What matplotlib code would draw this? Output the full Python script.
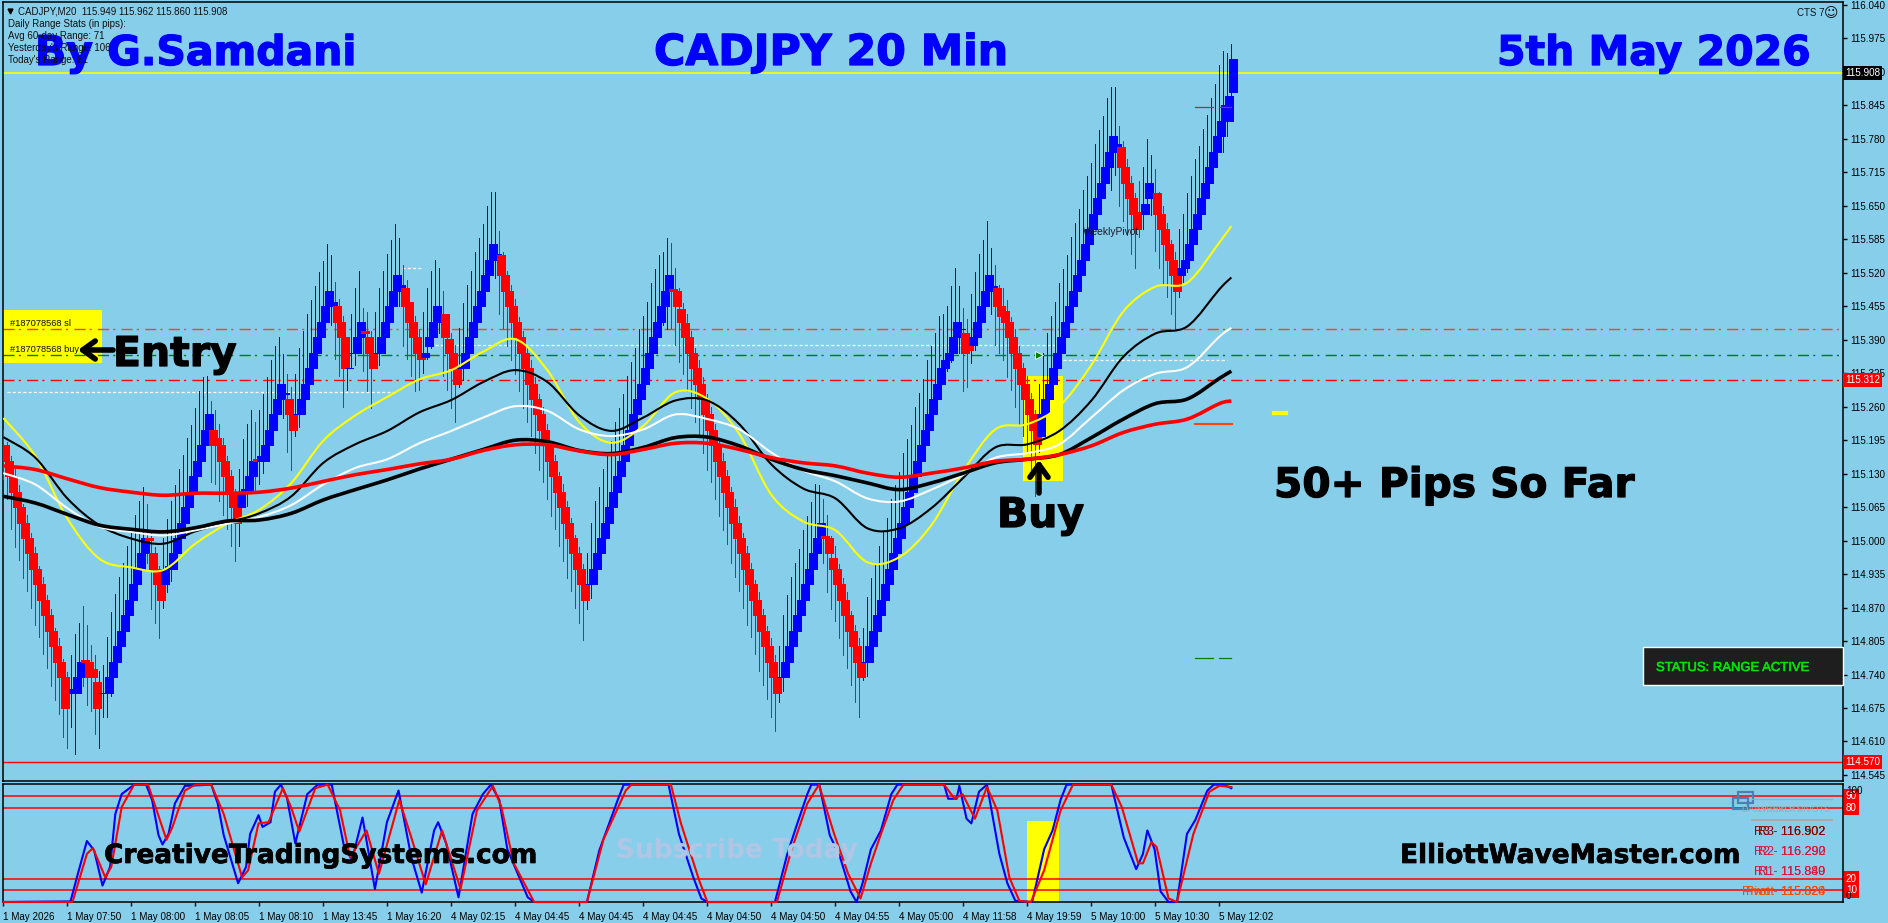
import numpy as np
import matplotlib
matplotlib.use("Agg")
import matplotlib.pyplot as plt
import matplotlib.patheffects as pe
from matplotlib.patches import Rectangle, PathPatch
from matplotlib.path import Path

W, H = 1888, 923
SKY = "#87ceeb"
SMALL = "Liberation Sans"
BOLD = "DejaVu Sans"

plt.rcParams["lines.scale_dashes"] = False
plt.rcParams["font.family"] = [SMALL, "DejaVu Sans"]

# =========================
# Data - renko bricks, one pair per bar (price = base + n * brick)
# =========================
base_price = 114.585
brick = 0.03

opens = [
    20, 19, 18, 17, 16, 15, 14, 13, 12, 11,
    10, 9, 8, 7, 6, 5, 4.1, 4, 4, 5,
    6.1, 6, 5.5, 4.7, 4, 4, 4, 5, 6, 7,
    8, 9, 10, 11, 12, 13, 14, 13, 12, 11,
    11, 12, 12, 13, 14, 15, 16, 17, 18, 19,
    20, 21, 21, 20.5, 20, 19, 18, 17, 16, 16,
    17, 17, 18, 19.1, 19, 19, 20, 21, 22, 23,
    23.3, 23, 22, 22, 22, 23, 24, 25, 26, 27,
    28, 29, 29, 29, 28, 27, 25, 26, 26, 27,
    27.4, 27, 26, 26, 26, 27, 28, 29, 30, 30,
    30.2, 29.3, 28, 27, 26, 25.7, 26.4, 27, 28, 28.3,
    28.5, 26.9, 26, 25, 25, 25, 26, 27, 28, 29,
    30, 31, 32, 32, 32.3, 31, 30, 29, 28, 27,
    26, 25, 24, 23, 22, 21, 20, 19, 18, 17,
    16, 15, 14, 13, 12, 11, 11, 11, 12, 13,
    14, 15, 16, 17, 18, 19, 20, 21, 22, 23,
    24, 25, 26, 27, 28, 29, 30, 30.1, 30, 28.8,
    27.9, 27, 26, 25, 24, 23, 22, 21, 20, 19,
    18, 17, 16, 15, 14, 13, 12, 11, 10, 9,
    8, 7, 6, 5, 5, 5, 6, 7, 8, 9,
    10, 11, 12, 13, 14, 14.1, 14, 12.7, 12, 11,
    10, 9, 8, 7, 6, 6, 6, 7, 8, 9,
    10, 11, 12, 13, 14, 15, 16, 17, 18, 19,
    20, 21, 22, 23, 24, 25, 25.5, 26, 27, 27.5,
    27.3, 26.4, 26.5, 27, 28, 29, 30, 30, 30.2, 29,
    28.7, 28, 27, 26, 25, 24, 23, 22, 21, 20.6,
    22, 23, 24, 25, 26, 27, 28, 29, 30, 31,
    32, 33, 34, 35, 36, 37, 38, 39, 39, 39.3,
    38, 37, 36, 35, 35.1, 35, 36, 36.3, 36.3, 35,
    34, 33, 32, 31, 31, 31.5, 32, 33, 34, 35,
    36, 37, 38, 39, 40, 41, 41, 42.9,
]
closes = [
    19, 18, 17, 16, 15, 14, 13, 12, 11, 10,
    9, 8, 7, 6, 5, 3, 4, 4.25, 5, 6,
    6, 5, 5, 3, 4, 4, 5, 6, 7, 8,
    9, 10, 11, 12, 13, 14, 13.9, 12, 11, 10,
    12, 12.2, 13, 14, 15, 16, 17, 18, 19, 20,
    21, 22, 20, 20, 19, 18, 17, 16, 15, 17,
    17.2, 18, 19, 19, 19.3, 20, 21, 22, 23, 24,
    23.4, 22, 21, 22, 23, 24, 25, 26, 27, 28,
    29, 30, 29.3, 28, 27, 25, 25, 26, 27, 28,
    27.3, 26, 25, 26, 27, 28, 29, 30, 31, 30.4,
    29, 28, 27, 26, 25.6, 26, 27, 28, 29, 28.5,
    27, 26, 25, 24, 25.1, 26, 27, 28, 29, 30,
    31, 32, 33, 32.4, 31, 30, 29, 28, 27, 26,
    25, 24, 23, 22, 21, 20, 19, 18, 17, 16,
    15, 14, 13, 12, 11, 10, 11, 12, 13, 14,
    15, 16, 17, 18, 19, 20, 21, 22, 23, 24,
    25, 26, 27, 28, 29, 30, 31, 30, 29, 28,
    27, 26, 25, 24, 23, 22, 21, 20, 19, 18,
    17, 16, 15, 14, 13, 12, 11, 10, 9, 8,
    7, 6, 5, 4, 5, 6, 7, 8, 9, 10,
    11, 12, 13, 14, 15, 14, 13, 12, 11, 10,
    9, 8, 7, 6, 5, 6, 7, 8, 9, 10,
    11, 12, 13, 14, 15, 16, 17, 18, 19, 20,
    21, 22, 23, 24, 25, 25.5, 26, 27, 28, 27.5,
    26, 26.2, 27, 28, 29, 30, 31, 30.3, 29, 28.4,
    28, 27, 26, 25, 24, 23, 22, 21, 20.1, 22,
    23, 24, 25, 26, 27, 28, 29, 30, 31, 32,
    33, 34, 35, 36, 37, 38, 39, 40, 39.5, 38,
    37, 36, 35, 34, 35, 35.6, 37, 36.3, 35, 34,
    33, 32, 31, 30, 31.5, 32, 33, 34, 35, 36,
    37, 38, 39, 40, 41, 42, 42.6, 45,
]
wick_up = [
    1.0, 1.2, 1.3, 1.5, 1.4, 1.2, 1.5, 1.3, 1.4, 1.2,
    1.5, 1.3, 1.4, 1.2, 1.5, 1.2, 1.2, 2.2, 2.8, 2.5,
    3.5, 2.4, 1.6, 1.7, 1.4, 1.8, 2.6, 3.2, 3.4, 3.5,
    3.4, 3.5, 3.4, 3.5, 3.4, 3.3, 2.2, 1.5, 1.4, 1.2,
    2.0, 3.0, 3.4, 3.4, 3.5, 3.4, 3.5, 3.3, 3.4, 3.5,
    3.4, 2.5, 1.9, 1.8, 1.4, 1.5, 1.3, 1.4, 1.2, 1.5,
    3.2, 3.4, 3.3, 2.4, 3.0, 3.3, 3.4, 3.5, 3.4, 3.0,
    2.5, 1.6, 1.8, 2.6, 3.3, 3.4, 3.5, 3.4, 3.3, 3.2,
    2.9, 3.0, 3.0, 1.6, 1.5, 1.4, 2.0, 2.5, 3.2, 3.3,
    1.5, 1.6, 1.4, 2.6, 3.2, 3.3, 3.4, 3.3, 3.3, 3.0,
    1.5, 1.4, 1.3, 1.4, 1.5, 2.6, 3.2, 3.3, 3.0, 3.0,
    1.5, 1.4, 1.3, 1.5, 2.5, 3.2, 3.4, 3.3, 3.5, 3.4,
    3.3, 3.5, 3.4, 4.0, 1.6, 1.5, 1.3, 1.4, 1.5, 1.3,
    1.4, 1.3, 1.5, 1.4, 1.3, 1.5, 1.4, 1.2, 1.4, 1.3,
    1.5, 1.4, 1.3, 1.2, 1.4, 1.3, 2.0, 3.0, 3.4, 3.3,
    3.5, 3.4, 3.3, 3.5, 3.4, 3.3, 3.5, 3.4, 3.3, 3.5,
    3.4, 3.3, 3.5, 3.4, 3.3, 2.5, 2.4, 3.0, 1.5, 1.4,
    1.3, 1.5, 1.4, 1.3, 1.5, 1.4, 1.3, 1.5, 1.4, 1.3,
    1.5, 1.4, 1.3, 1.5, 1.4, 1.3, 1.5, 1.4, 1.3, 1.5,
    1.4, 1.3, 1.5, 1.4, 2.0, 3.0, 3.3, 3.5, 3.4, 3.3,
    3.5, 3.4, 3.3, 3.5, 2.4, 2.4, 1.5, 1.4, 1.5, 1.3,
    1.4, 1.5, 1.3, 1.4, 1.5, 2.2, 3.2, 3.4, 3.3, 3.5,
    3.4, 3.3, 3.5, 3.4, 3.3, 3.5, 3.4, 3.3, 3.5, 3.4,
    3.3, 3.5, 3.4, 3.3, 3.4, 3.0, 3.0, 3.3, 3.5, 2.8,
    1.6, 1.8, 2.8, 3.2, 3.4, 3.3, 3.5, 2.5, 1.5, 1.4,
    1.5, 1.4, 1.3, 1.5, 1.4, 1.3, 1.5, 1.4, 1.3, 2.0,
    3.0, 3.3, 3.4, 3.3, 3.5, 3.4, 3.3, 3.5, 3.4, 3.3,
    3.5, 3.4, 3.3, 3.5, 3.4, 3.3, 3.5, 3.2, 3.7, 1.4,
    1.7, 1.5, 1.4, 1.3, 2.0, 2.4, 2.8, 2.5, 1.6, 1.4,
    1.5, 1.4, 1.3, 1.5, 2.5, 3.0, 3.3, 3.4, 3.5, 3.4,
    3.5, 3.4, 3.5, 3.4, 3.6, 3.5, 2.8, 1.0,
]
wick_down = [
    1.2, 1.5, 2.4, 2.6, 2.4, 2.6, 2.4, 2.5, 2.6, 2.4,
    2.5, 2.4, 2.6, 2.5, 2.4, 1.9, 3.6, 2.2, 4.0, 1.0,
    1.6, 1.8, 2.2, 1.7, 3.6, 1.6, 1.6, 1.2, 0.8, 0.7,
    0.8, 0.6, 0.7, 0.8, 0.7, 0.6, 1.5, 2.6, 2.5, 2.5,
    1.5, 1.5, 0.8, 0.7, 0.8, 0.7, 0.6, 0.7, 0.8, 0.7,
    0.6, 0.8, 2.4, 2.5, 2.6, 2.5, 2.4, 2.5, 2.5, 2.5,
    1.0, 0.9, 0.8, 2.0, 1.5, 0.8, 0.7, 0.8, 0.7, 0.7,
    1.5, 2.4, 2.6, 1.4, 0.8, 0.7, 0.8, 0.7, 0.6, 0.7,
    0.8, 0.7, 1.2, 2.4, 2.5, 2.5, 1.4, 1.0, 0.8, 0.7,
    2.5, 2.5, 2.6, 1.0, 0.8, 0.7, 0.8, 0.7, 0.8, 1.0,
    2.6, 2.4, 2.5, 2.5, 2.0, 1.0, 0.8, 0.7, 0.8, 1.0,
    2.5, 2.4, 2.6, 2.5, 1.2, 0.8, 0.7, 0.8, 0.7, 0.8,
    0.7, 0.6, 0.7, 1.2, 2.5, 2.4, 2.6, 2.5, 2.4, 2.5,
    2.6, 2.5, 2.4, 2.5, 2.6, 2.4, 2.5, 2.6, 2.4, 2.5,
    2.5, 2.6, 2.4, 2.5, 2.5, 2.6, 1.6, 0.9, 0.8, 0.7,
    0.8, 0.7, 0.6, 0.8, 0.7, 0.6, 0.8, 0.7, 0.6, 0.8,
    0.7, 0.6, 0.8, 0.7, 0.6, 1.2, 2.5, 2.4, 2.5, 2.6,
    2.4, 2.5, 2.6, 2.5, 2.4, 2.5, 2.6, 2.4, 2.5, 2.6,
    2.5, 2.4, 2.6, 2.5, 2.4, 2.5, 2.6, 2.4, 2.5, 2.6,
    2.5, 2.4, 2.6, 2.5, 1.6, 0.9, 0.8, 0.7, 0.8, 0.7,
    0.6, 0.8, 0.7, 0.6, 0.7, 1.6, 2.5, 2.6, 2.4, 2.5,
    2.6, 2.4, 2.5, 2.6, 2.6, 1.2, 0.9, 0.8, 0.7, 0.6,
    0.8, 0.7, 0.6, 0.8, 0.7, 0.6, 0.8, 0.7, 0.6, 0.8,
    0.7, 0.6, 0.8, 0.7, 0.6, 0.8, 0.7, 0.6, 0.8, 1.5,
    2.5, 2.4, 1.2, 0.8, 0.7, 0.6, 0.8, 1.5, 2.5, 2.4,
    2.5, 2.6, 2.4, 2.5, 2.6, 2.4, 2.5, 2.6, 3.4, 1.0,
    0.9, 0.8, 0.7, 0.6, 0.8, 0.7, 0.6, 0.8, 0.7, 0.6,
    0.8, 0.7, 0.6, 0.8, 0.7, 0.6, 0.8, 2.5, 1.5, 2.5,
    2.5, 2.4, 2.6, 2.5, 1.5, 1.0, 0.9, 1.4, 2.4, 2.5,
    2.6, 2.4, 2.5, 2.5, 1.4, 0.9, 0.8, 0.7, 0.6, 0.8,
    0.7, 0.6, 0.8, 0.7, 0.6, 2.0, 1.0, 0.5,
]

# moving averages, read every 8 bars
ma_bars = list(range(0, 305, 8)) + [307]
ma_yellow = [115.238, 115.164, 115.043, 114.965, 114.948, 114.943, 114.994, 115.033, 115.060, 115.112,
             115.194, 115.243, 115.279, 115.313, 115.331, 115.367, 115.391, 115.331, 115.230, 115.190,
             115.223, 115.288, 115.275, 115.207, 115.089, 115.037, 115.020, 114.958, 114.968, 115.030,
             115.135, 115.216, 115.226, 115.261, 115.341, 115.445, 115.493, 115.501, 115.579, 115.611]
ma_black_thin = [115.201, 115.161, 115.082, 115.030, 115.004, 114.994, 115.018, 115.035, 115.053, 115.086,
                 115.151, 115.187, 115.213, 115.249, 115.273, 115.308, 115.331, 115.308, 115.243, 115.213,
                 115.239, 115.272, 115.272, 115.226, 115.148, 115.101, 115.082, 115.024, 115.024, 115.063,
                 115.122, 115.181, 115.187, 115.213, 115.272, 115.357, 115.402, 115.416, 115.488, 115.511]
ma_white = [115.131, 115.109, 115.063, 115.027, 115.017, 115.010, 115.020, 115.033, 115.046, 115.069,
            115.109, 115.141, 115.158, 115.189, 115.213, 115.239, 115.261, 115.252, 115.216, 115.203,
            115.216, 115.245, 115.236, 115.216, 115.171, 115.136, 115.115, 115.082, 115.076, 115.099,
            115.128, 115.161, 115.170, 115.187, 115.239, 115.292, 115.324, 115.337, 115.396, 115.413]
ma_black_thick = [115.086, 115.073, 115.051, 115.030, 115.022, 115.017, 115.025, 115.038, 115.040, 115.053,
                  115.079, 115.099, 115.118, 115.139, 115.158, 115.177, 115.195, 115.192, 115.175, 115.169,
                  115.181, 115.200, 115.201, 115.184, 115.158, 115.138, 115.126, 115.112, 115.099, 115.112,
                  115.131, 115.151, 115.158, 115.167, 115.200, 115.236, 115.266, 115.275, 115.315, 115.329]
ma_red = [115.145, 115.138, 115.120, 115.103, 115.094, 115.088, 115.092, 115.092, 115.094, 115.102,
          115.115, 115.128, 115.138, 115.149, 115.158, 115.175, 115.186, 115.186, 115.174, 115.167,
          115.177, 115.189, 115.189, 115.177, 115.161, 115.151, 115.145, 115.131, 115.123, 115.131,
          115.141, 115.154, 115.158, 115.167, 115.184, 115.210, 115.226, 115.236, 115.266, 115.271]

# oscillator breakpoints
osc_blue_x = [0, 16.8, 18.4, 20.9, 22.7, 24.8, 26.7, 28, 29.6, 32.7, 35.7, 37.2, 38.8, 39.8, 41.3, 42.9, 45.4,
              52, 53.6, 55.1, 58.7, 60.7, 61.7, 63.8, 64.8, 66.8, 67.9, 69.4, 70.9, 73, 76, 78.6, 82.1, 85.2,
              87.2, 89.8, 92.9, 95.9, 98.8, 102, 104.6, 107.7, 108.7, 110.7, 113.8, 117.3, 119.9, 121.9, 124,
              126, 131.1, 132.7, 145.9, 149, 153.6, 155.1, 166.3, 168.9, 172.5, 174.5, 176, 192.9, 196, 198.5,
              201, 202, 204, 206.6, 209.2, 211.8, 213.3, 214.8, 216.9, 219.4, 222, 223.5, 235.2, 236.2, 238.3,
              239, 240.8, 242, 243.9, 245.9, 249, 251, 253, 257.2, 260.2, 262.3, 264.3, 265.8, 277, 280.1,
              283.2, 284.9, 286, 287.8, 289.3, 291.3, 293.4, 295.9, 298, 301, 302.6, 305, 307]
osc_blue = [0, 0.5, 21, 52, 44, 14, 30, 75, 92, 100, 100, 87, 57, 49, 58, 84, 99,
            100, 84, 57, 16, 30, 58, 74, 64, 68, 94, 100, 89, 50, 92, 100, 100, 47,
            36, 72, 11, 68, 95, 38, 8, 61, 68, 50, 4, 75, 92, 100, 87,
            45, 4, 0, 0, 44, 87, 100, 100, 58, 21, 3, 0, 0, 41, 67,
            92, 100, 100, 57, 38, 9, 0, 16, 45, 61, 92, 100, 100, 88, 88,
            99, 71, 67, 94, 100, 41, 16, 1, 0, 45, 61, 87, 100, 100, 55,
            28, 41, 61, 45, 9, 0, 0, 58, 70, 95, 100, 100, 97]
osc_red_x = [0, 17.3, 20.9, 22.4, 25.5, 27, 29.6, 32.7, 36.2, 40.8, 42.3, 45.4, 48, 52, 55.1, 59.7, 61.2, 63.8,
             66.3, 69.9, 71.9, 74, 78, 81.1, 84.2, 86.7, 90.8, 93.9, 99, 102, 105.6, 109.7, 114.3, 118.4,
             122.4, 124.5, 127.6, 132.7, 145.9, 150, 155.6, 157, 166.9, 169.4, 174, 176, 193.4, 197, 201,
             203.9, 207.7, 211.2, 214.3, 216.9, 219.4, 222.5, 225, 235.2, 237.8, 239.8, 242.9, 245.9, 248.5,
             251.5, 254, 256.9, 260.2, 264.3, 267.4, 277, 279.6, 283.7, 284.9, 287, 288.3, 291.3, 293.4,
             297.5, 301.5, 304, 307]
osc_red = [0, 0, 41, 46, 21, 30, 81, 100, 100, 53, 64, 95, 100, 100, 75, 21, 27, 67,
           68, 97, 81, 60, 97, 100, 78, 38, 61, 24, 87, 55, 15, 61, 11, 78,
           99, 81, 33, 0, 0, 53, 95, 100, 100, 67, 18, 0, 0, 44, 84,
           100, 58, 24, 3, 33, 58, 87, 100, 100, 88, 92, 71, 98, 78,
           21, 1, 0, 27, 78, 100, 100, 81, 33, 33, 51, 47, 3, 0,
           58, 94, 99, 98]
osc_levels = [90, 80, 20, 10]

price_ticks = [116.040, 115.975, 115.910, 115.845, 115.780, 115.715, 115.650, 115.585, 115.520, 115.455, 115.390,
               115.325, 115.260, 115.195, 115.130, 115.065, 115.000, 114.935, 114.870, 114.805, 114.740,
               114.675, 114.610, 114.545]
time_ticks = list(range(0, 305, 16))
time_labels = ["1 May 2026", "1 May 07:50", "1 May 08:00", "1 May 08:05", "1 May 08:10", "1 May 13:45",
               "1 May 16:20", "4 May 02:15", "4 May 04:45", "4 May 04:45", "4 May 04:45", "4 May 04:50",
               "4 May 04:50", "4 May 04:55", "4 May 05:00", "4 May 11:58", "4 May 19:59", "5 May 10:00",
               "5 May 10:30", "5 May 12:02"]

last_price = 115.908
order_sl = 115.411
order_open = 115.360
stop_line = 115.312
low_line = 114.570
trade_levels = [115.289, 115.530, 115.379, 115.351]
trade_from = [1, 99.7, 108, 265]
trade_to = [98, 105, 263, 306]


def pane(left, top, right, bottom):
    ax = fig.add_axes([left / W, 1 - bottom / H, (right - left) / W, (bottom - top) / H])
    ax.set_facecolor("none")
    for s in ax.spines.values():
        s.set_linewidth(1.1)
        s.set_color("black")
    return ax


def smooth_line(axis, xs, ys, color, lw, zorder):
    # bezier through the read points so the averages do not look angular
    pts = np.column_stack((xs, ys)).astype(float)
    before = np.vstack((pts[0], pts[:-1]))
    after = np.vstack((pts[1:], pts[-1]))
    tangent = (after - before) / 6.0
    verts = [pts[0]]
    codes = [Path.MOVETO]
    for k in range(len(pts) - 1):
        verts += [pts[k] + tangent[k], pts[k + 1] - tangent[k + 1], pts[k + 1]]
        codes += [Path.CURVE4] * 3
    axis.add_patch(PathPatch(Path(verts, codes), fc="none", ec=color, lw=lw, zorder=zorder))


fig = plt.figure(figsize=(W / 100, H / 100), dpi=100, facecolor=SKY)

# =========================
# Price pane
# =========================
ax = pane(2.5, 2, 1843, 781)
ax.set_xlim(-0.2, 459.9)
ax.set_ylim(116.04 - 779 / 517, 116.04 + 3 / 517)
ax.yaxis.tick_right()
ax.set_yticks(price_ticks)
ax.set_yticklabels([f"{p:.3f}" for p in price_ticks], fontsize=7.1)
ax.tick_params(axis="y", length=3, width=1, pad=2)
ax.set_xticks([])

bars = np.arange(len(closes))
o = base_price + np.array(opens) * brick
c = base_price + np.array(closes) * brick
hi = np.maximum(o, c) + np.array(wick_up) * brick
lo = np.minimum(o, c) - np.array(wick_down) * brick
colors = np.where(c >= o, "#0000ff", "#ff0000")

ax.add_patch(Rectangle((-0.2, 115.344), 24.9, 0.104, fc="#ffff00", ec="none", zorder=1))
ax.add_patch(Rectangle((254.9, 115.115), 10, 0.204, fc="#ffff00", ec="none", zorder=1))

dash = (0, (8, 3, 1.5, 4.5))
ax.axhline(order_sl, color="#ff4500", lw=1.0, ls=dash, zorder=2)
ax.axhline(order_open, color="#008000", lw=1.0, ls=dash, zorder=2)
ax.axhline(stop_line, color="#ff0000", lw=1.0, ls=dash, zorder=2)
ax.axhline(last_price, color="#ffff00", lw=1.2, zorder=2)
ax.axhline(low_line, color="#ff0000", lw=1.0, zorder=2)

# white dotted trade levels
ax.hlines(trade_levels, trade_from, trade_to, colors="white", lw=0.9,
          linestyles=[(0, (2.2, 1.6))], zorder=2)

ax.vlines(bars, lo, hi, colors=colors, lw=0.7, antialiased=False, zorder=3)
ax.bar(bars + 0.42, c - o, bottom=o, width=1.9, color=colors, edgecolor=colors, linewidth=0.5,
       antialiased=False, zorder=4)

smooth_line(ax, ma_bars, ma_yellow, "#ffff00", 1.5, 5)
smooth_line(ax, ma_bars, ma_black_thin, "black", 1.5, 6)
smooth_line(ax, ma_bars, ma_white, "white", 1.5, 6)
smooth_line(ax, ma_bars, ma_black_thick, "black", 2.6, 7)
smooth_line(ax, ma_bars, ma_red, "#ff0000", 2.6, 8)

ax.plot([259], [order_open], marker=">", ms=6, color="#008000", mec="white", mew=0.6, zorder=9)


def price_tag(axis, value, text, bg, fg="white", x=1.0012, size=7.1):
    axis.text(x, value, text, transform=axis.get_yaxis_transform(), va="center", ha="left", color=fg,
              fontsize=size, bbox=dict(fc=bg, ec="none", pad=1.6), clip_on=False, zorder=12)


price_tag(ax, last_price, "115.908", "black")
price_tag(ax, stop_line, "115.312", "#ff0000")
price_tag(ax, low_line, "114.570", "#ff0000")

# =========================
# Oscillator pane
# =========================
osc = pane(2.5, 783.5, 1843, 902)
osc.set_xlim(-0.2, 459.9)
osc.set_ylim(0, 101)
osc.set_yticks([])
osc.set_xticks(time_ticks)
osc.set_xticklabels(time_labels, fontsize=7.1, ha="left")
osc.tick_params(axis="x", length=3, width=1, pad=4)

osc.add_patch(Rectangle((256, 0), 8, 69, fc="#ffff00", ec="none", zorder=1))
for level in osc_levels:
    osc.axhline(level, color="#ff0000", lw=1.1, zorder=2)
    price_tag(osc, level, str(level), "#ff0000", x=1.0016)
osc.plot(osc_blue_x, osc_blue, color="#0000ff", lw=1.5, zorder=3, clip_on=False)
osc.plot(osc_red_x, osc_red, color="#ff0000", lw=1.5, zorder=4, clip_on=False)

# =========================
# Text and drawn objects, in pixel coordinates
# =========================
top = fig.add_axes([0, 0, 1, 1])
top.set_xlim(0, W)
top.set_ylim(H, 0)
top.axis("off")
top.patch.set_alpha(0)


def big_text(x, y, text, color, size, fat=0.9):
    top.text(x, y, text, family=BOLD, weight="bold", color=color, fontsize=size,
             path_effects=[pe.withStroke(linewidth=fat, foreground=color)])


big_text(35, 65, "By G.Samdani", "#0000ff", 29.5)
big_text(654, 65, "CADJPY 20 Min", "#0000ff", 30.7)
big_text(1497, 65, "5th May 2026", "#0000ff", 29.5)
big_text(113, 366, "Entry", "black", 29.5)
big_text(997, 527, "Buy", "black", 29.5)
big_text(1274, 497, "50+ Pips So Far", "black", 29.3)
big_text(104, 863, "CreativeTradingSystems.com", "black", 19, 0.5)
big_text(1400, 863, "ElliottWaveMaster.com", "black", 19, 0.5)
top.text(616, 858, "Subscribe Today", family=BOLD, weight="bold", color="#afc6e4", fontsize=19)

arrow = dict(arrowstyle="->,head_length=0.9,head_width=0.65", color="black", lw=4, shrinkA=0, shrinkB=0)
top.annotate("", xy=(78, 350), xytext=(113, 350), arrowprops=arrow)
top.annotate("", xy=(1039, 460), xytext=(1039, 493), arrowprops=arrow)

info = ["Daily Range Stats (in pips):", "Avg 60-day Range: 71", "Yesterday's Range: 106", "Today's Range: 61"]
for k, line in enumerate(info):
    top.text(7.5, 24 + 12 * k, line, fontsize=7, va="center", color="#101010")
top.text(18, 11, "CADJPY,M20  115.949 115.962 115.860 115.908", fontsize=7, va="center", color="#101010")
top.plot([10], [11], marker="v", ms=3.5, color="black")
top.text(1797, 12.5, "CTS 7", fontsize=7, va="center", color="#101010")
top.text(1824, 13, "\u263a", family="DejaVu Sans", fontsize=10, va="center", color="#101010")

top.text(10, 324, "#187078568 sl", fontsize=6.7, va="center", color="#101010")
top.text(10, 350, "#187078568 buy", fontsize=6.7, va="center", color="#101010")
top.text(1083, 232, "WeeklyPivot", fontsize=7.4, va="center", color="#1a1a2a")

# small level marks near the last bars
top.plot([1274, 1286], [413, 413], color="#ffff00", lw=3)
top.plot([1195, 1232], [424, 424], color="#ff4500", lw=1.5)
top.plot([1195, 1213], [107, 107], color="#dc143c", lw=0.9)
top.plot([1219, 1231], [107, 107], color="#dc143c", lw=0.9)
top.plot([1195, 1213], [657.5, 657.5], color="#008000", lw=0.9)
top.plot([1219, 1231], [657.5, 657.5], color="#008000", lw=0.9)

# status panel
top.add_patch(Rectangle((1643, 647), 199.5, 38, fc="#1e1e1e", ec="white", lw=1))
top.text(1656, 668, "STATUS: RANGE ACTIVE", color="#00e600", fontsize=9.4, va="center",
         path_effects=[pe.withStroke(linewidth=0.4, foreground="#00e600")])

# pivot block on the oscillator
top.add_patch(Rectangle((1738, 792), 15, 11, fc="none", ec="#4682b4", lw=1.6))
top.add_patch(Rectangle((1733, 798), 15, 11, fc="none", ec="#4682b4", lw=1.6))
top.plot([1752, 1832], [799, 799], color="#a9a9a9", lw=0.8)
top.plot([1752, 1832], [819.5, 819.5], color="#a9a9a9", lw=1.5)
top.text(1742, 809, "DAILY PIVOTS", fontsize=6.5, va="center", color="#a9a9a9")
top.text(1830, 809, "WEEKLY PIVOTS", fontsize=6.5, va="center", ha="right", color="#a9a9a9")
pivot_rows = [(832, "R3", "116.902", "116.502", "#8b0000"),
              (852, "R2", "116.292", "116.290", "#dc143c"),
              (872, "R1", "115.840", "115.889", "#dc143c"),
              (892, "Pivot", "115.828", "115.824", "#ff4500")]
for y, name, v1, v2, col in pivot_rows:
    top.text(1825, y, f"{name}  {v1}", fontsize=9, va="center", ha="right", color=col)
    top.text(1825, y, f"{name} - {v2}", fontsize=9, va="center", ha="right", color=col)
top.text(1846, 790.5, "100", fontsize=7.1, va="center")
top.text(1846, 896, "0", fontsize=7.1, va="center")

fig.savefig("out.png", dpi=100, facecolor=SKY)
